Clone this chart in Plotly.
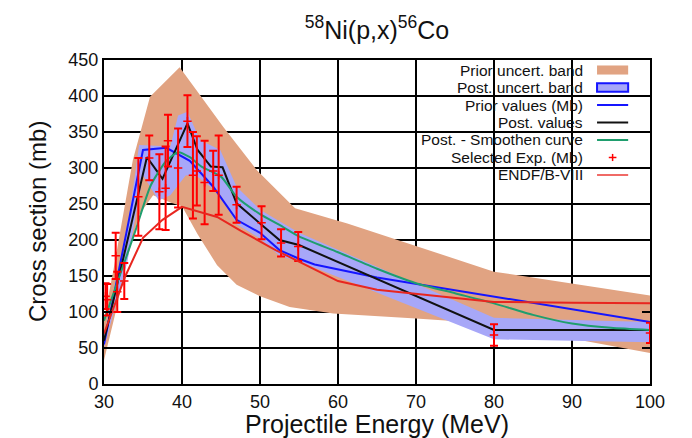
import plotly.graph_objects as go

# ---- Prior uncertainty band (upper / lower edges) ----
prior_up_E = [30, 31.2, 33.7, 35.9, 39.7, 45.3, 49.6, 54.5, 61.2, 80, 100]
prior_up = [90, 158, 311, 399, 440, 357, 297, 244, 223, 156, 123]
prior_lo_E = [30, 31.5, 33, 34.5, 36.3, 38.5, 40, 42, 44.5, 47, 50, 53.8, 59.4, 70, 78, 80, 100]
prior_lo = [33, 100, 175, 235, 262, 252, 247, 208, 165, 138, 122, 107, 98, 91, 85, 83, 43]

# ---- Posterior uncertainty band ----
post_up_E = [30, 33, 34.5, 38.5, 39.5, 40.7, 42.3, 44.9, 47, 50, 55, 80, 100]
post_up = [68, 215, 332, 330, 373, 378, 339, 325, 274, 242, 210, 92, 86]
post_lo_E = [30, 33, 35, 37, 38.5, 40.5, 42, 45, 47, 50, 52.5, 55, 80, 100]
post_lo = [50, 170, 290, 255, 262, 290, 288, 262, 222, 202, 178, 170, 62, 58]

# ---- Prior values ----
prior_E = [30, 35, 38, 41, 44, 47, 50, 52.5, 55, 57, 65, 80, 100]
prior_val = [55, 325, 328, 310, 274, 228, 210, 186, 174, 166, 148, 121, 86]

# ---- Posterior values ----
post_E = [30, 35.5, 37.5, 40.7, 42, 43.7, 45.2, 47, 50, 52.5, 55, 80, 100]
post_val = [60, 315, 285, 362, 325, 302, 301, 251, 223, 200, 193, 75, 75]

# ---- Posterior smoothed curve ----
smooth_E = [30, 32, 34, 36, 38, 39.5, 41, 42.5, 45, 47, 50, 52.5, 55, 60, 65, 70, 75, 80, 85, 90, 95, 100]
smooth_val = [88, 150, 212, 276, 310, 322, 315, 302, 288, 260, 236, 221, 205, 183, 160, 140, 126, 112, 96, 84, 78, 75]

# ---- ENDF/B-VIII ----
endf_E = [30, 32.7, 35, 37.5, 40, 42, 44.5, 47.5, 50, 52, 55, 60, 65, 70, 75, 80, 90, 100]
endf_val = [70, 149, 203, 228, 246, 240, 232, 213, 198, 186, 170, 143, 131, 125, 119, 114, 113, 112]

# ---- Selected experimental data ----
exp_E = [30.2, 30.4, 31.5, 31.7, 32.6, 34.4, 35.8, 37.1, 37.9, 38.2, 39.5, 40.7,
         41.4, 41.9, 42.9, 44.0, 44.7, 47.0, 50.2, 52.7, 54.9, 80.0, 100.0]
exp_val = [122, 117, 178, 128, 143, 260, 314, 267, 272, 338, 300, 365,
           290, 296, 280, 296, 290, 249, 224, 196, 191, 68, 71]
exp_err = [18, 22, 32, 28, 25, 54, 31, 52, 58, 36, 55, 36,
           60, 48, 58, 28, 55, 25, 23, 19, 20, 15, 14]

x_ticks = [30, 40, 50, 60, 70, 80, 90, 100]
y_ticks = [0, 50, 100, 150, 200, 250, 300, 350, 400, 450]

ORANGE = "#e1a382"
LAVENDER = "#a7a7f8"
BLUE = "#1515ff"
GREEN = "#1f9e6e"
RED = "#e8261f"
EXP_RED = "#ff0000"
FONT = "Liberation Sans, Arial, sans-serif"

fig = go.Figure()

# bands as closed polygons
fig.add_trace(go.Scatter(
    x=prior_up_E + prior_lo_E[::-1], y=prior_up + prior_lo[::-1],
    fill="toself", fillcolor=ORANGE, line=dict(width=0), mode="lines",
    hoverinfo="skip", showlegend=False))
fig.add_trace(go.Scatter(
    x=post_up_E + post_lo_E[::-1], y=post_up + post_lo[::-1],
    fill="toself", fillcolor=LAVENDER, line=dict(width=0), mode="lines",
    hoverinfo="skip", showlegend=False))

fig.add_trace(go.Scatter(x=prior_E, y=prior_val, mode="lines",
                         line=dict(color=BLUE, width=2), showlegend=False))
fig.add_trace(go.Scatter(x=post_E, y=post_val, mode="lines",
                         line=dict(color="#111111", width=2), showlegend=False))
fig.add_trace(go.Scatter(x=smooth_E, y=smooth_val, mode="lines",
                         line=dict(color=GREEN, width=2, shape="spline", smoothing=0.6),
                         showlegend=False))
fig.add_trace(go.Scatter(
    x=exp_E, y=exp_val, mode="markers",
    marker=dict(symbol="cross-thin", size=6, line=dict(color=EXP_RED, width=1.5)),
    error_y=dict(type="data", array=exp_err, visible=True, color=EXP_RED,
                 thickness=2, width=4),
    showlegend=False))
fig.add_trace(go.Scatter(x=endf_E, y=endf_val, mode="lines",
                         line=dict(color=RED, width=2), showlegend=False))

# key box: text on the left, sample on the right
labels = ["Prior uncert. band", "Post. uncert. band", "Prior values (Mb)", "Post. values",
          "Post. - Smoothen curve", "Selected Exp. (Mb)", "ENDF/B-VIII"]
row_y = [0.9691, 0.9151, 0.8611, 0.8071, 0.7531, 0.6991, 0.6451]
shapes = [dict(type="rect", xref="paper", yref="paper", x0=0.414, x1=1.0, y0=0.623, y1=1.0,
               fillcolor="white", line=dict(width=0), layer="between")]
annotations = []
for lab, yy in zip(labels, row_y):
    annotations.append(dict(text=lab, xref="paper", yref="paper", x=0.879, y=yy,
                            xanchor="right", yanchor="middle", showarrow=False,
                            borderpad=0,
                            font=dict(family=FONT, size=15.5, color="#111111")))
sx0, sx1 = 0.903, 0.960
shapes.append(dict(type="rect", xref="paper", yref="paper", x0=sx0, x1=sx1,
                   y0=row_y[0] - 0.014, y1=row_y[0] + 0.014,
                   fillcolor=ORANGE, line=dict(width=0), layer="above"))
shapes.append(dict(type="rect", xref="paper", yref="paper", x0=sx0, x1=sx1,
                   y0=row_y[1] - 0.013, y1=row_y[1] + 0.013,
                   fillcolor=LAVENDER, line=dict(color=BLUE, width=2), layer="above"))
for yy, col in [(row_y[2], BLUE), (row_y[3], "#111111"), (row_y[4], GREEN), (row_y[6], "#f06a66")]:
    shapes.append(dict(type="line", xref="paper", yref="paper", x0=sx0, x1=sx1, y0=yy, y1=yy,
                       line=dict(color=col, width=2), layer="above"))
cx = (sx0 + sx1) / 2
shapes.append(dict(type="line", xref="paper", yref="paper", x0=cx - 0.007, x1=cx + 0.007,
                   y0=row_y[5], y1=row_y[5], line=dict(color=EXP_RED, width=1.5), layer="above"))
shapes.append(dict(type="line", xref="paper", yref="paper", x0=cx, x1=cx,
                   y0=row_y[5] - 0.011, y1=row_y[5] + 0.011,
                   line=dict(color=EXP_RED, width=1.5), layer="above"))

# axis titles
annotations.append(dict(text="Projectile Energy (MeV)", xref="paper", yref="paper",
                        x=0.5, y=-0.122, xanchor="center", yanchor="middle", showarrow=False,
                        font=dict(family=FONT, size=25, color="#111111")))
annotations.append(dict(text="Cross section (mb)", xref="paper", yref="paper",
                        x=-0.1227, y=0.5, xanchor="center", yanchor="middle", showarrow=False,
                        textangle=-90, font=dict(family=FONT, size=24, color="#111111")))

axis_common = dict(showgrid=True, gridcolor="black", gridwidth=2, zeroline=False,
                   showline=True, linecolor="black", linewidth=2, mirror="ticks",
                   ticks="inside", ticklen=8, tickwidth=1.5, tickcolor="black",
                   tickfont=dict(family=FONT, size=18, color="#111111"))

fig.update_layout(
    width=692, height=438,
    margin=dict(l=104, r=42, t=60, b=54),
    paper_bgcolor="white", plot_bgcolor="white",
    title=dict(text="<sup>58</sup>Ni(p,x)<sup>56</sup>Co", x=0.5, xref="paper",
               y=1 - 30 / 438, yanchor="middle", yref="container",
               font=dict(family=FONT, size=25, color="#111111")),
    xaxis=dict(range=[30, 100], tickvals=x_ticks, **axis_common),
    yaxis=dict(range=[0, 450], tickvals=y_ticks, **axis_common),
    shapes=shapes, annotations=annotations, showlegend=False,
)

fig.write_html("out.html")
